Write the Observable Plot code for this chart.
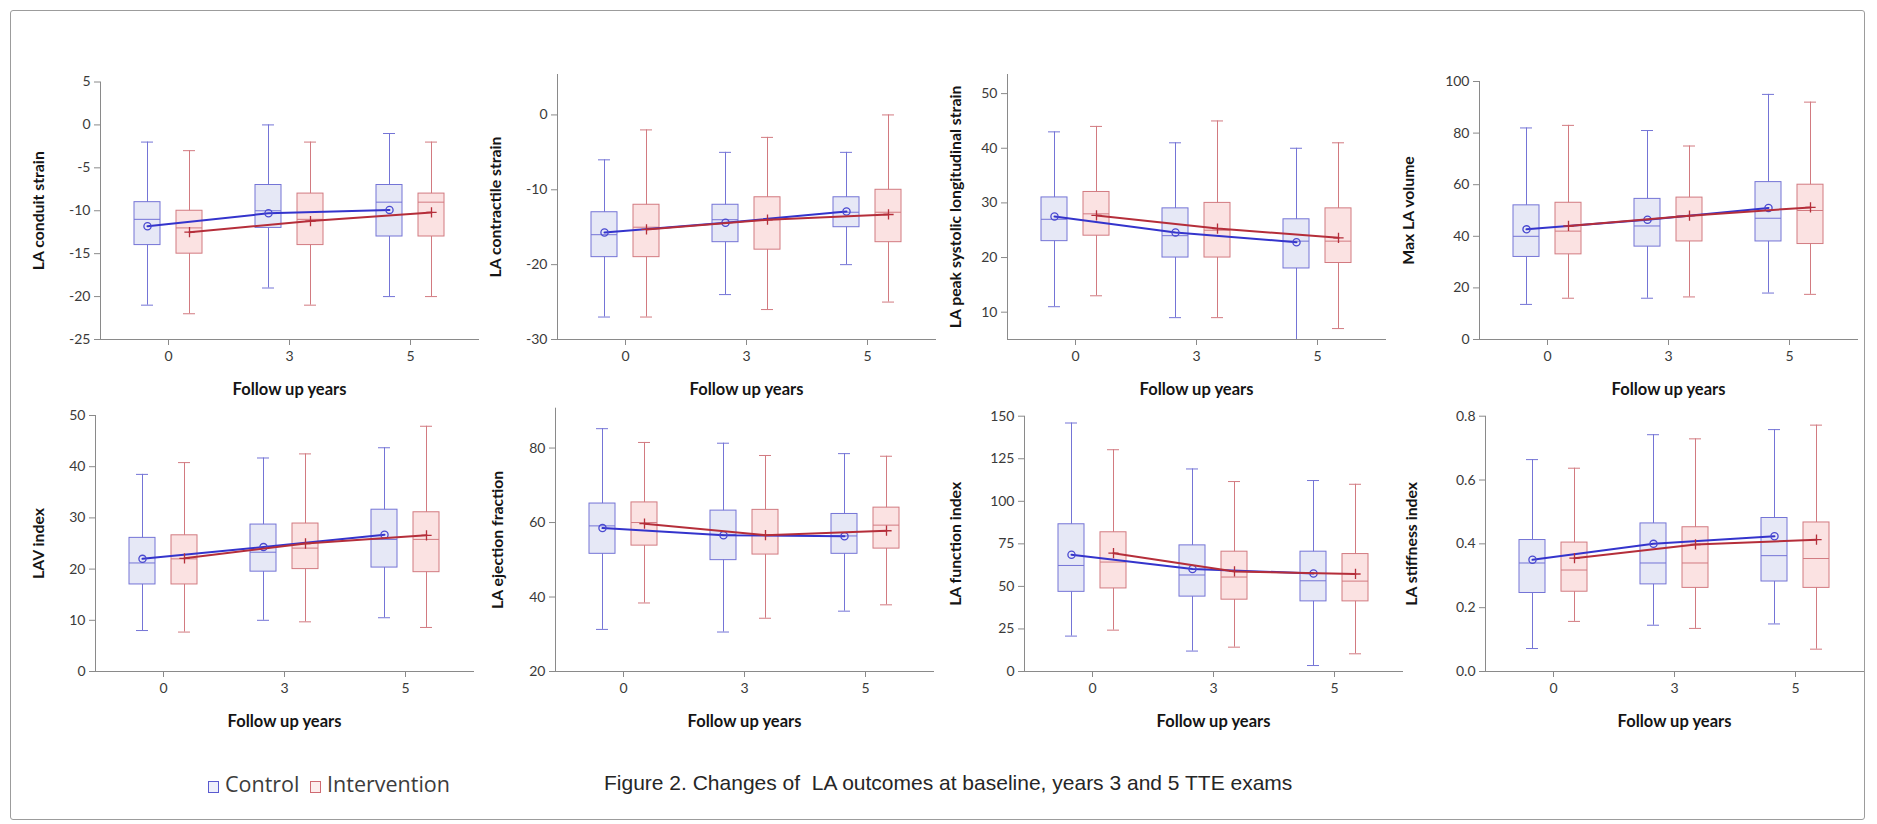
<!DOCTYPE html>
<html>
<head>
<meta charset="utf-8">
<script src="https://cdn.jsdelivr.net/npm/d3@7"></script>
<script src="https://cdn.jsdelivr.net/npm/@observablehq/plot@0.6"></script>
<style>
html, body { margin: 0; padding: 0; background: #fff; }
#fig { position: relative; width: 1877px; height: 824px; overflow: hidden; font-family: Lato, sans-serif; }
#frame { position: absolute; left: 10px; top: 10px; width: 1855px; height: 810px; border: 1px solid #9c9c9c; border-radius: 3px; box-sizing: border-box; }
.panel { position: absolute; }
.panel svg { background: transparent !important; overflow: visible; }
#legend { position: absolute; left: 208px; top: 770px; font-family: "Open Sans", sans-serif; font-size: 21.5px; color: #3c3c3c; white-space: nowrap; line-height: 28px; }
.sw { display: inline-block; width: 9px; height: 10px; border: 1.3px solid; margin-right: 6px; vertical-align: -1px; }
#caption { position: absolute; left: 604px; top: 769px; font-family: "Liberation Sans", Arial, sans-serif; font-size: 21px; color: #262626; white-space: pre; line-height: 28px; }
</style>
</head>
<body>
<div id="fig">
  <div id="frame"></div>
  <div id="legend"><span class="sw" style="border-color:#5a5ad0;background:#eef0fb"></span>Control <span class="sw" style="border-color:#cf6a72;background:#fdeeee;margin-left:5px"></span>Intervention</div>
  <div id="caption">Figure 2. Changes of  LA outcomes at baseline, years 3 and 5 TTE exams</div>
</div>
<script>
// ---------- data ----------
const years = ["0", "3", "5"];
const groups = ["Control", "Intervention"];
const xLabel = "Follow up years";
const titles = [
  "LA conduit strain", "LA contractile strain", "LA peak systolic longitudinal strain", "Max LA volume",
  "LAV index", "LA ejection fraction", "LA function index", "LA stiffness index"
];
// each row = one follow-up year: [lower whisker, Q1, median, Q3, upper whisker, mean]
const conduitControl      = [[-21, -14, -11, -9, -2, -11.8], [-19, -12, -10, -7, 0, -10.3], [-20, -13, -9, -7, -1, -9.9]];
const conduitIntervention = [[-22, -15, -12, -10, -3, -12.5], [-21, -14, -11, -8, -2, -11.2], [-20, -13, -9, -8, -2, -10.2]];
const contractileControl      = [[-27, -19, -16, -13, -6, -15.7], [-24, -17, -14, -12, -5, -14.4], [-20, -15, -13, -11, -5, -12.9]];
const contractileIntervention = [[-27, -19, -15, -12, -2, -15.3], [-26, -18, -14, -11, -3, -14.0], [-25, -17, -13, -10, 0, -13.3]];
const peakControl      = [[11, 23, 27, 31, 43, 27.5], [9, 20, 24, 29, 41, 24.6], [5, 18, 23, 27, 40, 22.8]];
const peakIntervention = [[13, 24, 28, 32, 44, 27.7], [9, 20, 25, 30, 45, 25.3], [7, 19, 23, 29, 41, 23.6]];
const maxVolControl      = [[13.6, 32, 40, 52, 82, 42.7], [16, 36, 44, 54.5, 81, 46.4], [18, 38, 47, 61, 95, 51]];
const maxVolIntervention = [[16, 33, 42, 53, 83, 44], [16.5, 38, 48, 55, 75, 48], [17.5, 37, 50, 60, 92, 51.2]];
const lavControl      = [[8, 17, 21.2, 26.1, 38.5, 22], [10, 19.5, 23.3, 28.7, 41.7, 24.3], [10.5, 20.3, 25.8, 31.6, 43.7, 26.7]];
const lavIntervention = [[7.7, 17, 22, 26.6, 40.8, 22.1], [9.7, 20, 24.1, 28.9, 42.5, 25], [8.6, 19.4, 25.8, 31.1, 47.9, 26.6]];
const efControl      = [[31.3, 51.6, 59.1, 65.1, 85.2, 58.5], [30.6, 49.9, 56.8, 63.2, 81.3, 56.6], [36.2, 51.6, 56.4, 62.3, 78.5, 56.3]];
const efIntervention = [[38.4, 53.8, 60, 65.4, 81.5, 59.7], [34.3, 51.4, 56.6, 63.4, 78, 56.6], [37.9, 53, 59.3, 64, 77.8, 57.8]];
const funcControl      = [[20.8, 46.8, 62.3, 86.5, 146, 68.6], [12, 44, 56.7, 74.1, 119, 60.2], [3.5, 41.2, 53.3, 70.4, 112.2, 57.6]];
const funcIntervention = [[24.3, 48.8, 64.3, 81.8, 130.3, 69.5], [14.3, 42.2, 55.5, 70.4, 111.6, 58.8], [10.4, 41.2, 53.1, 69, 110, 57.3]];
const stiffControl      = [[0.072, 0.246, 0.34, 0.412, 0.664, 0.35], [0.145, 0.273, 0.34, 0.464, 0.742, 0.40], [0.149, 0.282, 0.363, 0.481, 0.758, 0.424]];
const stiffIntervention = [[0.157, 0.25, 0.318, 0.404, 0.637, 0.355], [0.135, 0.262, 0.34, 0.452, 0.729, 0.398], [0.07, 0.262, 0.354, 0.467, 0.772, 0.413]];
// axis extents and tick values
const yDomains = [[-25, 5], [-30, 5.4], [5, 53.5], [0, 100], [0, 50], [20, 90.7], [0, 150], [0, 0.8]];
const yTicks = [
  [-25, -20, -15, -10, -5, 0, 5], [-30, -20, -10, 0], [10, 20, 30, 40, 50], [0, 20, 40, 60, 80, 100],
  [0, 10, 20, 30, 40, 50], [20, 40, 60, 80], [0, 25, 50, 75, 100, 125, 150], [0, 0.2, 0.4, 0.6, 0.8]
];

const series = [
  [conduitControl, conduitIntervention], [contractileControl, contractileIntervention],
  [peakControl, peakIntervention], [maxVolControl, maxVolIntervention],
  [lavControl, lavIntervention], [efControl, efIntervention],
  [funcControl, funcIntervention], [stiffControl, stiffIntervention]
];

// ---------- layout / style ----------
const axisLeft = [100, 557, 1007, 1479, 95, 555, 1024, 1485];
const plotTop = [81.5, 74, 74, 81, 415, 407.7, 415.7, 415.7];
const rowBottom = [339, 671];
const rowSvgTop = [40, 395];
const titleOffset = [62, 62, 52, 71, 57, 58, 69, 74];
const groupShift = [-21, 21];
const boxStroke = ["#7474d6", "#d27a80"];
const boxFill = ["#e6e8f6", "#fbe2e2"];
const meanStroke = ["#3434cc", "#b52e3a"];
const meanSymbol = ["circle", "plus"];
const axisColor = "#8a8a8a";
const textColor = "#3a3a3a";

const fig = document.getElementById("fig");
const ML = 90, MR = 10, W = 378, MB = 66;

titles.forEach((title, i) => {
  const row = i < 4 ? 0 : 1;
  const svgTop = rowSvgTop[row];
  const mt = plotTop[i] - svgTop;
  const height = rowBottom[row] - svgTop + MB;
  const rows = [];
  groups.forEach((g, gi) => series[i][gi].forEach((v, yi) => rows.push({
    group: g, year: years[yi], lo: v[0], q1: v[1], med: v[2], q3: v[3], hi: v[4], mean: v[5]
  })));
  const fmt = i === 7 ? d3.format(".1f") : (d => String(d));
  const marks = [];
  groups.forEach((g, gi) => {
    const d = rows.filter(r => r.group === g);
    const dx = groupShift[gi];
    marks.push(
      Plot.ruleX(d, {x: "year", y1: "lo", y2: "hi", dx, stroke: boxStroke[gi], strokeWidth: 1}),
      Plot.tickY(d, {x: "year", y: "lo", dx, stroke: boxStroke[gi], insetLeft: 7, insetRight: 7}),
      Plot.tickY(d, {x: "year", y: "hi", dx, stroke: boxStroke[gi], insetLeft: 7, insetRight: 7}),
      Plot.barY(d, {x: "year", y1: "q1", y2: "q3", dx, fill: boxFill[gi], stroke: boxStroke[gi], strokeWidth: 1}),
      Plot.tickY(d, {x: "year", y: "med", dx, stroke: boxStroke[gi], strokeWidth: 1})
    );
  });
  groups.forEach((g, gi) => {
    const d = rows.filter(r => r.group === g);
    const dx = groupShift[gi];
    marks.push(
      Plot.line(d, {x: "year", y: "mean", dx, stroke: meanStroke[gi], strokeWidth: 2}),
      Plot.dot(d, {x: "year", y: "mean", dx, symbol: meanSymbol[gi], r: gi === 0 ? 3.6 : 3.4,
        stroke: gi === 0 ? "#4a4ad0" : meanStroke[gi], fill: "none", strokeWidth: 1.3})
    );
  });
  marks.push(
    Plot.frame({anchor: "left", stroke: axisColor}),
    Plot.frame({anchor: "bottom", stroke: axisColor}),
    Plot.axisY({ticks: yTicks[i], tickFormat: fmt, tickSize: 6, tickPadding: 4, label: null,
      stroke: axisColor, fill: textColor, fontSize: 14}),
    Plot.axisX({tickSize: 6, tickPadding: 6, label: null, stroke: axisColor, fill: textColor, fontSize: 14}),
    Plot.text([title], {frameAnchor: "left", dx: -titleOffset[i], rotate: -90, textAnchor: "middle", lineAnchor: "middle",
      fontWeight: "bold", fontSize: 15.8, fill: "#151515"}),
    Plot.text([xLabel], {frameAnchor: "bottom", dy: 50, textAnchor: "middle", lineAnchor: "middle",
      fontWeight: "bold", fontSize: 16.5, fill: "#151515"})
  );
  const chart = Plot.plot({
    width: ML + W + MR,
    height,
    marginLeft: ML,
    marginRight: MR,
    marginTop: mt,
    marginBottom: MB,
    style: {fontFamily: "Lato, sans-serif", fontSize: "14px", background: "transparent", overflow: "visible"},
    x: {type: "band", domain: years, paddingInner: 0.787, paddingOuter: 0.443, axis: null},
    y: {domain: yDomains[i], axis: null},
    marks
  });
  const wrap = document.createElement("div");
  wrap.className = "panel";
  wrap.style.left = (axisLeft[i] - ML) + "px";
  wrap.style.top = svgTop + "px";
  wrap.appendChild(chart);
  fig.appendChild(wrap);
});
</script>
</body>
</html>
